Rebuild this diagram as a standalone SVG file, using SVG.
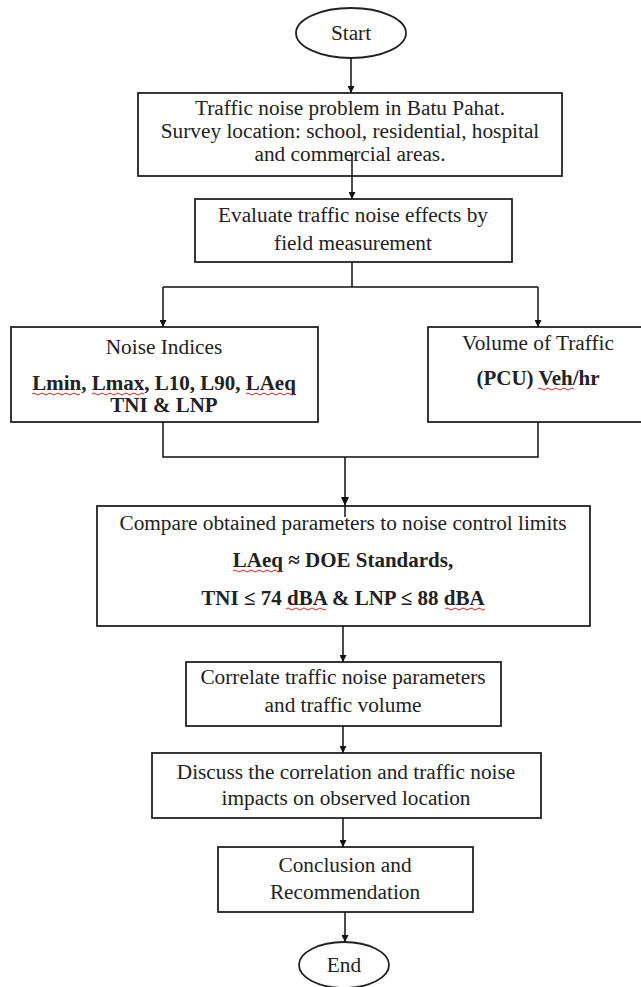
<svg xmlns="http://www.w3.org/2000/svg" width="641" height="987" viewBox="0 0 641 987">
<defs>
<marker id="ah" viewBox="0 0 10 10" refX="10" refY="5" markerWidth="8" markerHeight="7" markerUnits="userSpaceOnUse" orient="auto">
<path d="M0,0 L10,5 L0,10 Z" fill="#111"/>
</marker>
<style>
.box{fill:#fff;stroke:#222;stroke-width:1.8}
.t{font-family:"Liberation Serif","Times New Roman",serif;font-size:21.3px;fill:#222;text-anchor:middle}
.b{font-weight:bold;font-size:21px}
.c{fill:none;stroke:#111;stroke-width:1.5}
.sq{fill:none;stroke:#e02020;stroke-width:1}
</style>
</defs>
<rect width="641" height="987" fill="#fff"/>
<g id="start">
<ellipse class="box" cx="351" cy="33" rx="55" ry="25"/>
<text class="t" x="351" y="40">Start</text>
</g>
<g id="problem">
<rect class="box" x="138" y="93" width="424" height="83"/>
<text class="t" x="350" y="115">Traffic noise problem in Batu Pahat.</text>
<text class="t" x="350" y="138">Survey location: school, residential, hospital</text>
<text class="t" x="350" y="161">and commercial areas.</text>
</g>
<g id="evaluate">
<rect class="box" x="195" y="199" width="317" height="63"/>
<text class="t" x="353" y="222">Evaluate traffic noise effects by</text>
<text class="t" x="353" y="250">field measurement</text>
</g>
<g id="noise-indices">
<rect class="box" x="11" y="327" width="307" height="95"/>
<text class="t" x="164" y="354">Noise Indices</text>
<text class="t b" x="164" y="390">Lmin, Lmax, L10, L90, LAeq</text>
<text class="t b" x="164" y="412">TNI &amp; LNP</text>
<path class="sq" d="M32,394 q2,-2 4,0 t4,0 t4,0 t4,0 t4,0 t4,0 t4,0 t4,0 t4,0 t4,0 t4,0 t4,0 M92,394 q2,-2 4,0 t4,0 t4,0 t4,0 t4,0 t4,0 t4,0 t4,0 t4,0 t4,0 t4,0 t4,0 t4,0 M246,394 q2,-2 4,0 t4,0 t4,0 t4,0 t4,0 t4,0 t4,0 t4,0 t4,0 t4,0 t4,0 t4,0"/>
</g>
<g id="volume">
<rect class="box" x="428" y="327" width="222" height="95"/>
<text class="t" x="538" y="350">Volume of Traffic</text>
<text class="t b" x="538" y="385">(PCU) Veh/hr</text>
<path class="sq" d="M538,389 q2,-2 4,0 t4,0 t4,0 t4,0 t4,0 t4,0 t4,0 t4,0 t4,0"/>
</g>
<g id="compare">
<rect class="box" x="97" y="506" width="493" height="120"/>
<text class="t" x="343" y="530">Compare obtained parameters to noise control limits</text>
<text class="t b" x="343" y="567">LAeq ≈ DOE Standards,</text>
<text class="t b" x="343" y="605">TNI ≤ 74 dBA &amp; LNP ≤ 88 dBA</text>
<path class="sq" d="M233,571 q2,-2 4,0 t4,0 t4,0 t4,0 t4,0 t4,0 t4,0 t4,0 t4,0 t4,0 t4,0 t4,0 M286,609 q2,-2 4,0 t4,0 t4,0 t4,0 t4,0 t4,0 t4,0 t4,0 t4,0 t4,0 M445,609 q2,-2 4,0 t4,0 t4,0 t4,0 t4,0 t4,0 t4,0 t4,0 t4,0 t4,0"/>
</g>
<g id="correlate">
<rect class="box" x="186" y="662" width="315" height="64"/>
<text class="t" x="343" y="684">Correlate traffic noise parameters</text>
<text class="t" x="343" y="712">and traffic volume</text>
</g>
<g id="discuss">
<rect class="box" x="152" y="753" width="389" height="65"/>
<text class="t" x="346" y="779">Discuss the correlation and traffic noise</text>
<text class="t" x="346" y="805">impacts on observed location</text>
</g>
<g id="conclusion">
<rect class="box" x="218" y="847" width="255" height="65"/>
<text class="t" x="345" y="872">Conclusion and</text>
<text class="t" x="345" y="899">Recommendation</text>
</g>
<g id="end">
<ellipse class="box" cx="344" cy="965" rx="45" ry="23"/>
<text class="t" x="344" y="972">End</text>
</g>
<g id="connectors">
<path class="c" d="M351,58 V93" marker-end="url(#ah)"/>
<path class="c" d="M352,153 V199" marker-end="url(#ah)"/>
<path class="c" d="M352,262 V287 M163,287 H538"/>
<path class="c" d="M163,287 V327" marker-end="url(#ah)"/>
<path class="c" d="M538,287 V327" marker-end="url(#ah)"/>
<path class="c" d="M163,422 V457 H538 V422"/>
<path class="c" d="M345,457 V517"/>
<path d="M341,497 L349,497 L345,506 Z" fill="#111"/>
<path class="c" d="M343,626 V662" marker-end="url(#ah)"/>
<path class="c" d="M343,726 V753" marker-end="url(#ah)"/>
<path class="c" d="M343,818 V847" marker-end="url(#ah)"/>
<path class="c" d="M345,912 V942" marker-end="url(#ah)"/>
</g>
</svg>
